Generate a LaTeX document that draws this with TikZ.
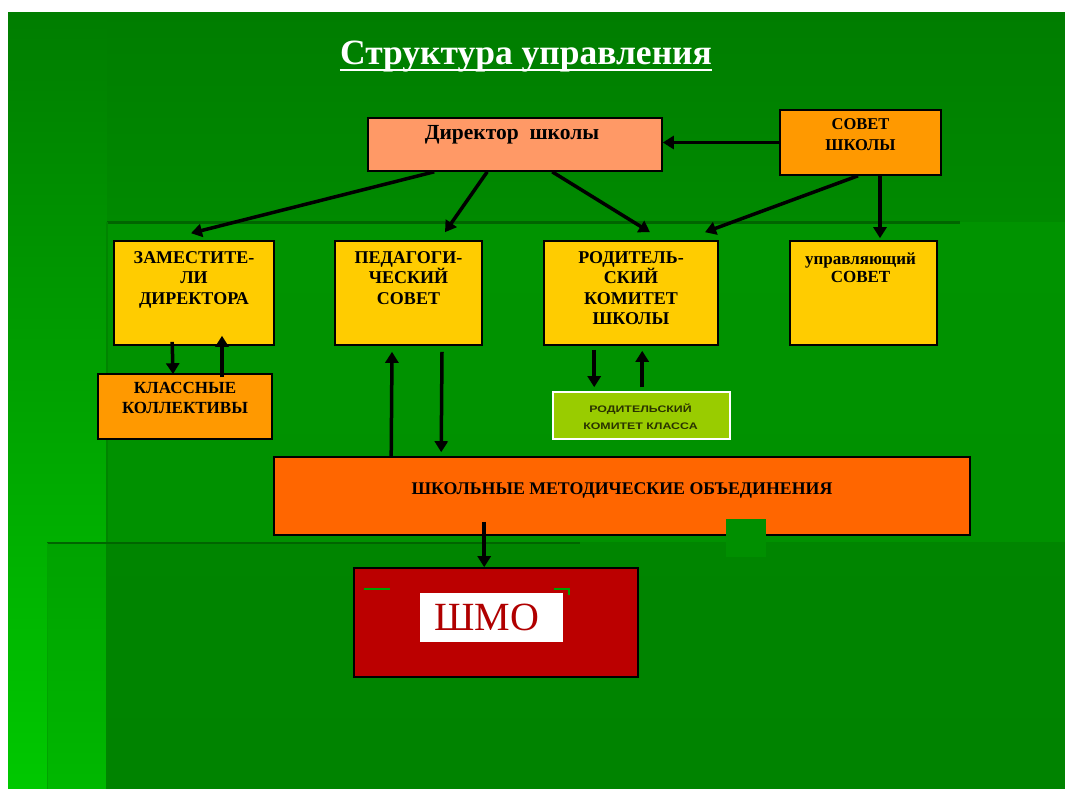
\documentclass[tikz,border=0pt]{standalone}
\usepackage{fontspec}
\setmainfont{Liberation Serif}
\newfontfamily\sansw{Liberation Sans}[FakeStretch=1.3]
\usetikzlibrary{arrows.meta}
\definecolor{bgtop}{HTML}{007D00}
\definecolor{bgleft}{HTML}{00C800}
\definecolor{panelA}{HTML}{009300}
\definecolor{panelB}{HTML}{008F00}
\definecolor{darkline}{HTML}{006500}
\definecolor{salmon}{HTML}{FF9966}
\definecolor{orng}{HTML}{FF9900}
\definecolor{yel}{HTML}{FFCC00}
\definecolor{lime}{HTML}{99CC00}
\definecolor{deeporange}{HTML}{FF6600}
\definecolor{darkred}{HTML}{BB0000}
\definecolor{shmotext}{HTML}{B00000}
\definecolor{markgreen}{HTML}{00A000}
\definecolor{olivetext}{HTML}{2A3300}
\begin{document}
\begin{tikzpicture}[x=1pt,y=-1pt,
  box/.style={draw=black, line width=1.6pt, inner sep=0pt},
  txt/.style={font=\bfseries\fontsize{18}{20.5}\selectfont, align=center, inner sep=0pt, text=black},
  arr/.style={line width=3.5pt, -{Triangle[width=13pt,length=11pt]}}]
\useasboundingbox (0,0) rectangle (1065,789);
\fill[white] (0,0) rectangle (1065,789);
% background
\shade[top color=bgtop, bottom color=bgleft] (8,13) rectangle (1065,789);
\shade[top color=bgtop, bottom color=bgtop!90!green] (107,13) rectangle (1065,222);
\shade[top color=panelA, bottom color=panelB] (107,222) rectangle (1065,789);
\fill[black, opacity=0.08] (47,542) rectangle (1065,789);
\draw[darkline, line width=3pt] (107,222) -- (960,222);
\draw[darkline!80!green, line width=1.5pt] (107,222) -- (107,789);
\draw[darkline, line width=2.5pt] (47,543) -- (580,543);
\draw[darkline!60!green, line width=1pt] (47,543) -- (47,789);

% title
\node[font=\bfseries\fontsize{35.5}{38}\selectfont, text=white, inner sep=0pt, anchor=base] (title) at (526,65) {Структура управления};
\draw[white, line width=2pt] ([yshift=-5pt]title.base west) -- ([yshift=-5pt]title.base east);

% boxes
\node[box, fill=salmon, minimum width=294pt, minimum height=53pt] (dir) at (515,144.5) {};
\node[box, fill=orng, minimum width=161pt, minimum height=65pt] (sov) at (860.5,142.5) {};
\node[box, fill=yel, minimum width=160pt, minimum height=104pt] (zam) at (194,293) {};
\node[box, fill=yel, minimum width=147pt, minimum height=104pt] (ped) at (408.5,293) {};
\node[box, fill=yel, minimum width=174pt, minimum height=104pt] (rod) at (631,293) {};
\node[box, fill=yel, minimum width=147pt, minimum height=104pt] (upr) at (863.5,293) {};
\node[box, fill=orng, minimum width=174pt, minimum height=65pt] (kl) at (185,406.5) {};
\node[draw=white, line width=1.6pt, inner sep=0pt, fill=lime, minimum width=177pt, minimum height=47pt] (rkk) at (641.5,415.5) {};
\node[box, fill=deeporange, minimum width=696pt, minimum height=78pt] (shmo) at (622,496) {};
\node[box, fill=darkred, minimum width=284pt, minimum height=109pt] (red) at (496,622.5) {};
\node[fill=white, inner sep=0pt, minimum width=143pt, minimum height=49pt] (wbox) at (491.5,617.5) {};
\fill[panelA!97!black] (726,519) rectangle (766,557);

% texts
\node[txt, font=\bfseries\fontsize{21.5}{24}\selectfont, anchor=north] (dirt) at ([xshift=-3pt,yshift=-8pt]dir.north) {Директор\ \ школы};
\node[txt, font=\bfseries\fontsize{16.5}{21}\selectfont, anchor=north] (sovt) at ([yshift=-9pt]sov.north) {СОВЕТ\\ШКОЛЫ};
\node[txt, anchor=north] (zamt) at ([yshift=-11pt]zam.north) {ЗАМЕСТИТЕ-\\ЛИ\\ДИРЕКТОРА};
\node[txt, anchor=north] (pedt) at ([yshift=-11pt]ped.north) {ПЕДАГОГИ-\\ЧЕСКИЙ\\СОВЕТ};
\node[txt, anchor=north] (rodt) at ([yshift=-11pt]rod.north) {РОДИТЕЛЬ-\\СКИЙ\\КОМИТЕТ\\ШКОЛЫ};
\node[txt, font=\bfseries\fontsize{17}{18}\selectfont, anchor=north] (uprt) at ([xshift=-3pt,yshift=-12pt]upr.north) {управляющий\\СОВЕТ};
\node[txt, font=\bfseries\fontsize{17}{20}\selectfont, anchor=north] (klt) at ([yshift=-9pt]kl.north) {КЛАССНЫЕ\\КОЛЛЕКТИВЫ};
\node[txt, font=\sansw\bfseries\fontsize{9.5}{17}\selectfont, text=olivetext, anchor=center] (rkkt) at ([xshift=-1pt,yshift=-1pt]rkk.center) {РОДИТЕЛЬСКИЙ\\КОМИТЕТ КЛАССА};
\node[txt, font=\bfseries\fontsize{17.8}{20}\selectfont, anchor=center] (shmot) at ([yshift=5pt]shmo.center) {ШКОЛЬНЫЕ МЕТОДИЧЕСКИЕ ОБЪЕДИНЕНИЯ};
\node[font=\fontsize{40}{44}\selectfont, text=shmotext, inner sep=0pt] (wt) at ([xshift=-5pt]wbox.center) {ШМО};

% small green marks
\draw[markgreen, line width=2pt] ([xshift=11pt,yshift=-22pt]red.north west) -- ([xshift=37pt,yshift=-22pt]red.north west);
\draw[markgreen, line width=2pt] ([xshift=201pt,yshift=-22pt]red.north west) -- ([xshift=216pt,yshift=-22pt]red.north west) -- ([xshift=216pt,yshift=-28pt]red.north west);

% arrows
\draw[arr] (sov.west) -- (sov.west -| dir.east);
\draw[arr] ([xshift=67pt]dir.south west) -- ([xshift=-3pt,yshift=7pt]zam.north);
\draw[arr] ([xshift=120pt]dir.south west) -- ([xshift=36.5pt,yshift=8pt]ped.north);
\draw[arr] ([xshift=185pt]dir.south west) -- ([xshift=19pt,yshift=8pt]rod.north);
\draw[arr] ([xshift=-2.5pt]sov.south) -- ([xshift=74pt,yshift=8pt]rod.north);
\draw[arr] ([xshift=19.5pt]sov.south) -- ([xshift=16.5pt,yshift=2pt]upr.north);
\draw[arr] ([xshift=59pt,yshift=4pt]zam.south west) -- ([xshift=-12pt,yshift=-1pt]kl.north);
\draw[arr] ([xshift=37pt,yshift=-4pt]kl.north) -- ([xshift=28pt,yshift=10pt]zam.south);
\draw[arr] ([xshift=118pt]shmo.north west) -- ([xshift=-16.5pt,yshift=-6pt]ped.south);
\draw[arr] ([xshift=33.5pt,yshift=-6pt]ped.south) -- ([xshift=168pt,yshift=4pt]shmo.north west);
\draw[arr] ([xshift=51pt,yshift=-4pt]rod.south west) -- ([xshift=42pt,yshift=4pt]rkk.north west);
\draw[arr] ([xshift=90pt,yshift=4pt]rkk.north west) -- ([xshift=99pt,yshift=-5pt]rod.south west);
\draw[arr] ([xshift=211pt,yshift=14pt]shmo.south west) -- ([xshift=131pt]red.north west);
\end{tikzpicture}
\end{document}
